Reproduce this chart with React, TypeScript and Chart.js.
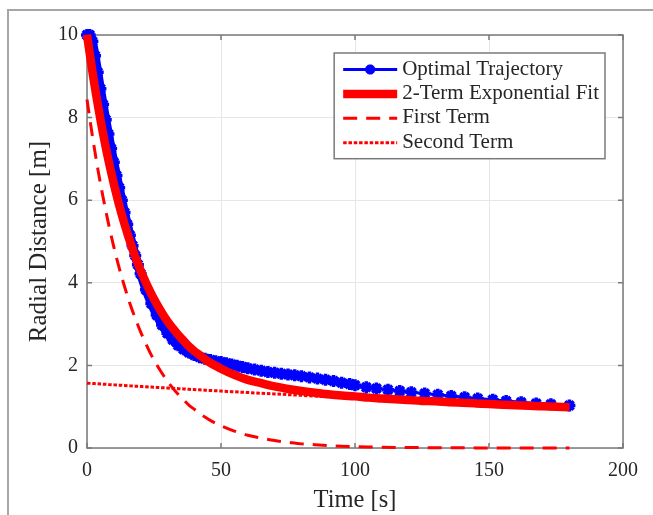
import React, { useEffect, useRef } from "react";
import { Chart, registerables } from "chart.js";

Chart.register(...registerables);

// ---------------- data ----------------
const seriesLabels = ["Optimal Trajectory", "2-Term Exponential Fit", "First Term", "Second Term"];
const xTicks = [0, 50, 100, 150, 200];
const yTicks = [0, 2, 4, 6, 8, 10];

const blueTime = [
  0, 1, 2, 3, 4, 5, 6, 7, 8, 9, 10, 11, 12, 13, 14, 15, 16, 17, 18, 19, 20,
  22, 24, 26, 28, 30, 32, 34, 36, 38, 40, 42, 44, 46, 48, 50,
  52, 54, 56, 58, 60, 62.5, 65, 67.5, 70, 72.5, 75, 77.5, 80, 83, 86, 89, 92, 95, 98, 100,
  104.2, 108, 112.3, 116.7, 121, 126, 130.9, 135.9, 140.9, 145.8, 151.4, 156.4, 162, 167.6, 173.1, 180,
];
const blueValues = [
  10.0, 10.0, 9.85, 9.5, 9.1, 8.7, 8.32, 7.95, 7.6, 7.25, 6.92, 6.6, 6.3, 6.0, 5.7, 5.42, 5.15, 4.9, 4.66, 4.44, 4.22,
  3.83, 3.5, 3.22, 2.98, 2.78, 2.62, 2.49, 2.39, 2.31, 2.25, 2.2, 2.16, 2.13, 2.1, 2.08,
  2.05, 2.02, 1.99, 1.96, 1.93, 1.9, 1.87, 1.84, 1.82, 1.8, 1.78, 1.76, 1.74, 1.71, 1.68, 1.65, 1.62, 1.58, 1.55, 1.52,
  1.47, 1.44, 1.41, 1.38, 1.35, 1.32, 1.29, 1.26, 1.23, 1.2, 1.17, 1.14, 1.11, 1.08, 1.06, 1.03,
];

const fitTime = [
  0, 2, 4, 6, 8, 10, 12, 14, 16, 18, 20, 22, 24, 26, 28, 30, 32, 34, 36, 38, 40, 42, 44, 46, 48, 50,
  55, 60, 65, 70, 75, 80, 85, 90, 95, 100, 105, 110, 115, 120, 125, 130, 135, 140, 145, 150, 155, 160, 165, 170, 175, 180,
];
const fitValues = [
  10.01, 9.12, 8.33, 7.61, 6.97, 6.4, 5.88, 5.42, 5.01, 4.63, 4.3, 4.0, 3.73, 3.49, 3.27, 3.07, 2.9, 2.74, 2.6, 2.46,
  2.35, 2.25, 2.15, 2.06, 1.99, 1.92,
  1.77, 1.65, 1.57, 1.49, 1.43, 1.38, 1.34, 1.3, 1.27, 1.25, 1.22, 1.2, 1.18, 1.16, 1.14, 1.13, 1.11, 1.095, 1.08, 1.065,
  1.05, 1.037, 1.023, 1.01, 0.997, 0.984,
];
const firstTermValues = [
  8.44, 7.56, 6.77, 6.07, 5.44, 4.87, 4.36, 3.91, 3.5, 3.14, 2.81, 2.52, 2.25, 2.02, 1.81, 1.62, 1.45, 1.3, 1.17, 1.04,
  0.94, 0.84, 0.75, 0.67, 0.6, 0.54,
  0.41, 0.31, 0.24, 0.18, 0.14, 0.1, 0.08, 0.06, 0.045, 0.035, 0.026, 0.02, 0.015, 0.011, 0.009, 0.007, 0.005, 0.004,
  0.003, 0.002, 0.0016, 0.0013, 0.001, 0.0007, 0.0005, 0.0004,
];
const secondTermValues = [
  1.57, 1.562, 1.554, 1.546, 1.538, 1.53, 1.522, 1.514, 1.506, 1.498, 1.49, 1.482, 1.475, 1.467, 1.46, 1.452, 1.445,
  1.437, 1.43, 1.422, 1.415, 1.408, 1.4, 1.393, 1.386, 1.379,
  1.361, 1.343, 1.326, 1.309, 1.292, 1.275, 1.259, 1.242, 1.226, 1.21, 1.195, 1.18, 1.164, 1.149, 1.134, 1.12, 1.105,
  1.091, 1.077, 1.063, 1.049, 1.036, 1.022, 1.009, 0.996, 0.983,
];

// ---------------- styles ----------------
const FONT = '"Liberation Serif", "Times New Roman", serif';
const TEXT = "#262626";
const AXIS = "#7a7a7a";
const BLUE = "#0000ff";
const RED = "#ff0000";

function drawStar(ctx: CanvasRenderingContext2D, x: number, y: number, r: number) {
  ctx.beginPath();
  for (let k = 0; k < 4; k++) {
    const a = (k * Math.PI) / 4;
    ctx.moveTo(x - Math.cos(a) * r, y - Math.sin(a) * r);
    ctx.lineTo(x + Math.cos(a) * r, y + Math.sin(a) * r);
  }
  ctx.stroke();
}

const framePlugin = {
  id: "matlabFrame",
  beforeDatasetsDraw(chart: any) {
    const { ctx, chartArea: a, scales } = chart;
    ctx.save();
    ctx.strokeStyle = AXIS;
    ctx.lineWidth = 1.5;
    ctx.strokeRect(a.left, a.top, a.right - a.left, a.bottom - a.top);
    const tl = 5;
    ctx.beginPath();
    for (const v of xTicks) {
      const px = scales.x.getPixelForValue(v);
      ctx.moveTo(px, a.bottom);
      ctx.lineTo(px, a.bottom - tl);
      ctx.moveTo(px, a.top);
      ctx.lineTo(px, a.top + tl);
    }
    for (const v of yTicks) {
      const py = scales.y.getPixelForValue(v);
      ctx.moveTo(a.left, py);
      ctx.lineTo(a.left + tl, py);
      ctx.moveTo(a.right, py);
      ctx.lineTo(a.right - tl, py);
    }
    ctx.stroke();
    ctx.restore();
  },
  afterDraw(chart: any) {
    const { ctx, chartArea: a } = chart;
    const ds = chart.data.datasets;
    ctx.save();
    ctx.font = `21px ${FONT}`;
    let maxW = 0;
    ds.forEach((d: any) => (maxW = Math.max(maxW, ctx.measureText(d.label).width)));
    const sampleLen = 54;
    const boxW = 9 + sampleLen + 5 + maxW + 6;
    const right = a.right - 18;
    const left = right - boxW;
    const top = a.top + 18;
    const rowH = 24.4;
    const boxH = 16.5 + rowH * (ds.length - 1) + 16;
    ctx.fillStyle = "#ffffff";
    ctx.fillRect(left, top, boxW, boxH);
    ctx.strokeStyle = AXIS;
    ctx.lineWidth = 1.5;
    ctx.strokeRect(left, top, boxW, boxH);
    ds.forEach((d: any, i: number) => {
      const y = top + 16.5 + i * rowH;
      const x0 = left + 9;
      const x1 = x0 + sampleLen;
      ctx.save();
      ctx.strokeStyle = d.borderColor;
      ctx.lineWidth = i === 0 ? 3 : d.borderWidth;
      ctx.setLineDash(d.borderDash || []);
      ctx.lineCap = "butt";
      ctx.beginPath();
      ctx.moveTo(x0, y);
      ctx.lineTo(x1, y);
      ctx.stroke();
      ctx.setLineDash([]);
      if (d.pointStyle === "star") {
        ctx.lineWidth = d.pointBorderWidth;
        drawStar(ctx, (x0 + x1) / 2, y, d.pointRadius - 1);
      }
      ctx.restore();
      ctx.fillStyle = TEXT;
      ctx.textBaseline = "alphabetic";
      ctx.textAlign = "left";
      ctx.fillText(d.label, x1 + 5, y + 5);
    });
    ctx.restore();
  },
};

export default function App() {
  const canvasRef = useRef<HTMLCanvasElement | null>(null);

  useEffect(() => {
    if (!canvasRef.current) return;
    const toPts = (xs: number[], ys: number[]) => xs.map((x, i) => ({ x, y: ys[i] }));
    const chart = new Chart(canvasRef.current, {
      type: "line",
      data: {
        datasets: [
          {
            label: seriesLabels[0],
            data: toPts(blueTime, blueValues),
            borderColor: BLUE,
            backgroundColor: BLUE,
            borderWidth: 3,
            pointStyle: "star",
            pointRadius: 6,
            pointBorderWidth: 3.5,
            pointBorderColor: BLUE,
            pointBackgroundColor: BLUE,
            tension: 0,
            clip: false,
            order: 3,
            segment: {
              borderWidth: (c: any) => (c.p0.parsed.x < 60 ? 9 : c.p0.parsed.x < 100 ? 7 : 3),
            },
          } as any,
          {
            label: seriesLabels[1],
            data: toPts(fitTime, fitValues),
            borderColor: RED,
            backgroundColor: RED,
            borderWidth: 8.5,
            pointRadius: 0,
            cubicInterpolationMode: "monotone",
            borderCapStyle: "butt",
            clip: false,
            order: 2,
          },
          {
            label: seriesLabels[2],
            data: toPts(fitTime, firstTermValues),
            borderColor: RED,
            backgroundColor: RED,
            borderWidth: 3,
            borderDash: [14, 9],
            pointRadius: 0,
            cubicInterpolationMode: "monotone",
            clip: false,
            order: 1,
          },
          {
            label: seriesLabels[3],
            data: toPts(fitTime, secondTermValues),
            borderColor: RED,
            backgroundColor: RED,
            borderWidth: 3,
            borderDash: [3.5, 1.8],
            pointRadius: 0,
            cubicInterpolationMode: "monotone",
            clip: false,
            order: 0,
          },
        ],
      },
      options: {
        responsive: false,
        animation: false,
        devicePixelRatio: 1,
        layout: { padding: { left: 0, right: 30, top: 35, bottom: 0 } },
        plugins: { legend: { display: false }, tooltip: { enabled: false } },
        scales: {
          x: {
            type: "linear",
            min: 0,
            max: 200,
            afterBuildTicks: (s: any) => {
              s.ticks = xTicks.map((v) => ({ value: v }));
            },
            afterFit: (s: any) => {
              s.height = 67;
            },
            grid: { color: "#e6e6e6", lineWidth: 1, drawTicks: false },
            border: { display: false },
            ticks: { font: { family: FONT, size: 20 }, color: TEXT, padding: 11, maxRotation: 0 },
            title: {
              display: true,
              text: "Time [s]",
              font: { family: FONT, size: 24.5 },
              color: TEXT,
              padding: { top: 0, bottom: 0 },
            },
          },
          y: {
            type: "linear",
            min: 0,
            max: 10,
            afterBuildTicks: (s: any) => {
              s.ticks = yTicks.map((v) => ({ value: v }));
            },
            afterFit: (s: any) => {
              s.width = 87;
            },
            grid: { color: "#e6e6e6", lineWidth: 1, drawTicks: false },
            border: { display: false },
            ticks: { font: { family: FONT, size: 20 }, color: TEXT, padding: 9 },
            title: {
              display: true,
              text: "Radial Distance [m]",
              font: { family: FONT, size: 25 },
              color: TEXT,
              padding: { top: 24, bottom: 0 },
            },
          },
        },
      },
      plugins: [framePlugin],
    });
    return () => chart.destroy();
  }, []);

  return (
    <div
      style={{
        position: "fixed",
        left: 0,
        top: 0,
        width: 653,
        height: 515,
        background: "#fff",
        overflow: "hidden",
      }}
    >
      <div
        style={{
          position: "absolute",
          left: 7,
          top: 9,
          width: 646,
          height: 506,
          borderTop: "2px solid #a6a6a6",
          borderLeft: "2px solid #a6a6a6",
          boxSizing: "border-box",
        }}
      />
      <canvas
        ref={canvasRef}
        width={653}
        height={515}
        style={{ position: "absolute", left: 0, top: 0, width: 653, height: 515 }}
      />
    </div>
  );
}
